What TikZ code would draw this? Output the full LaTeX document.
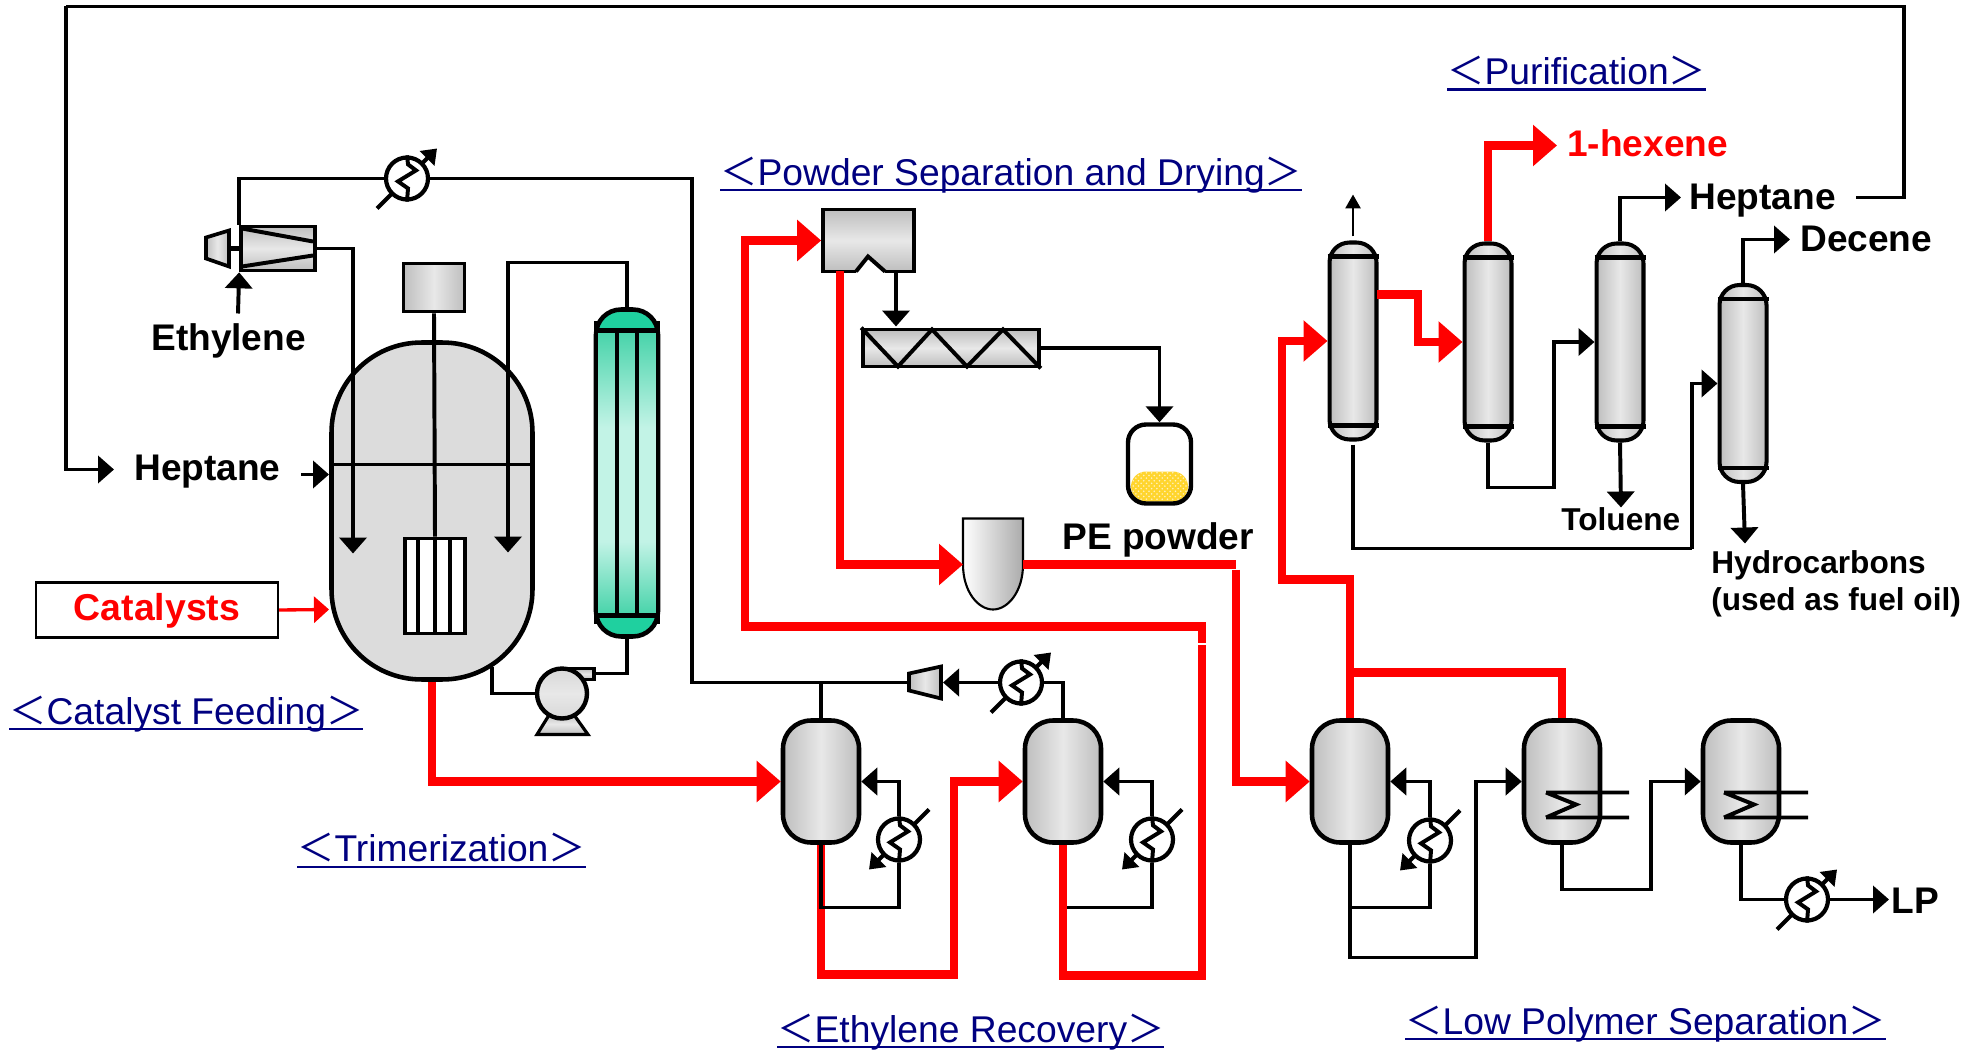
\documentclass[tikz,border=0pt]{standalone}
\usepackage{fontspec}
\setmainfont{Liberation Sans}
\newfontfamily\cjkfont{Noto Sans CJK JP}
\usetikzlibrary{arrows.meta, calc, patterns}
\definecolor{vesselgray}{HTML}{BEBEBE}
\definecolor{vessellight}{HTML}{E8E8E8}
\definecolor{reactorgray}{HTML}{DCDCDC}
\definecolor{capgreen}{HTML}{1FD09F}
\definecolor{tubegreen}{HTML}{46D3A9}
\definecolor{tubelight}{HTML}{C2F3E6}
\definecolor{powderyellow}{HTML}{FFD52E}
\definecolor{seclink}{HTML}{000080}
\pgfdeclareverticalshading{tubeshade}{100bp}{color(0bp)=(tubegreen); color(25bp)=(tubegreen); color(38bp)=(tubelight); color(58bp)=(tubelight); color(75bp)=(tubegreen); color(100bp)=(tubegreen)}
\newsavebox{\secbox}
\newcommand{\seclabel}[1]{\sbox{\secbox}{{\cjkfont ＜}#1{\cjkfont ＞}}\rlap{\usebox{\secbox}}\rule[-3.2pt]{\wd\secbox}{1.15pt}}
\tikzset{
	blackline/.style={draw=black, line width=2.25pt},
	blackflow/.style={blackline, -{Triangle[length=.32cm,width=.54cm]}},
	redline/.style={draw=red, line width=4.6pt},
	redflow/.style={redline, -{Triangle[length=.48cm,width=.8cm]}},
	vessel/.style={draw=black, line width=2.6pt, inner sep=0pt, left color=vesselgray, right color=vesselgray, middle color=vessellight, minimum width=1.52cm, minimum height=2.44cm, rounded corners=.56cm},
	column/.style={vessel, line width=2.3pt, minimum width=.94cm, minimum height=3.94cm, rounded corners=.4cm},
	barshade/.style={draw=black, line width=2.1pt, inner sep=0pt, top color=vesselgray, bottom color=vesselgray, middle color=vessellight},
	sideshade/.style={draw=black, line width=2.1pt, inner sep=0pt, left color=vesselgray, right color=vesselgray, middle color=vessellight},
	hx/.style={circle, draw=black, line width=2.4pt, fill=white, inner sep=0pt, minimum size=.84cm},
	hxline/.style={draw=black, line width=2.3pt, -{Triangle[length=.28cm,width=.4cm]}},
	boldlabel/.style={font=\bfseries\fontsize{21.1}{24}\selectfont, inner sep=0pt, anchor=west},
	smalllabel/.style={font=\bfseries\fontsize{18}{21}\selectfont, inner sep=0pt, anchor=west, align=left},
	seclabelnode/.style={font=\fontsize{21.2}{24}\selectfont, text=seclink, inner sep=0pt, anchor=west}
}
\begin{document}
\begin{tikzpicture}[x=.02cm,y=-.02cm]
	\useasboundingbox (0,-1.5) rectangle (1980,1048.5);
	
	\node[vessel, left color=reactorgray, right color=reactorgray, minimum width=4.02cm, minimum height=6.74cm, rounded corners=1.8cm] (reactor) at (432,509.5) {};
	\node[sideshade] (motor) at (434,286) [minimum width=1.22cm, minimum height=.96cm] {};
	\node[draw=black, line width=2.2pt, fill=white, inner sep=0pt, minimum width=1.2cm, minimum height=1.9cm] (impeller) at (435,584.5) {};
	\node[draw=black, line width=2.6pt, fill=capgreen, inner sep=0pt, minimum width=1.24cm, minimum height=6.54cm, rounded corners=.5cm] (cooler) at (627,471.5) {};
	\shade[shading=tubeshade] (598,329) rectangle (656,614);
	\draw[blackline, line width=2.6pt] (596,320) -- (596,622) (658,320) -- (658,622);
	\draw[blackline, line width=2.8pt] (596,329) -- (658,329) (596,614) -- (658,614);
	\draw[blackline] (617,329) -- (617,614) (637,329) -- (637,614);
	
	\node[barshade, minimum width=1.48cm, minimum height=.88cm] (ejector) at (278,247) {};
	\draw[blackline] (242,227) -- (313,240) (242,265) -- (313,254);
	\draw[sideshade] (229,229) -- (229,265) -- (206,257) -- (206,236) -- cycle;
	\draw[blackline, line width=3pt] (229,247) -- (ejector.west);
	
	\draw[barshade] (563,667) rectangle (594,678);
	\draw[barshade, line width=1.8pt] (550,712) -- (573,712) -- (588,733) -- (537,733) -- cycle;
	\node[sideshade, circle, line width=2.5pt, minimum size=1cm, top color=vesselgray!60, bottom color=vesselgray!60, middle color=vessellight] (pump) at (562,692) {};
	
	\node[vessel] (vesa) at (821,780) {};
	\node[vessel] (vesb) at (1063,780) {};
	\node[vessel] (vesc) at (1350,780) {};
	\node[vessel] (vesd) at (1562,780) {};
	\node[vessel] (vese) at (1741,780) {};
	
	\node[column] (cola) at (1353,339.5) {};
	\node[column] (colb) at (1488,340.5) {};
	\node[column] (colc) at (1620,340.5) {};
	\node[column] (cold) at (1743,382) {};
	\foreach \colname in {cola,colb,colc,cold}{
		\draw[blackline, line width=2.8pt] ($(\colname.north west)+(0,16)$) -- ($(\colname.north east)+(0,16)$);
		\draw[blackline, line width=2.8pt] ($(\colname.south west)+(0,-16)$) -- ($(\colname.south east)+(0,-16)$);
	}
	
	\node[barshade, minimum width=1.82cm, minimum height=1.24cm] (sep) at (868.5,239) {};
	\fill[white] (856,271.5) -- (868,255) -- (885,271.5) -- cycle;
	\draw[blackline] (856,270) -- (868,255) -- (885,270);
	
	\node[barshade, minimum width=3.52cm, minimum height=.74cm] (screw) at (951,346.5) {};
	\draw[blackline] (screw.north west) -- (898,365) -- (932,328) -- (967,365) -- (1003,328) -- (screw.south east);
	
	\fill[powderyellow, rounded corners=.3cm] (1131,470) rectangle (1188,500);
	\fill[pattern=crosshatch dots, pattern color=white!70!powderyellow, rounded corners=.3cm] (1131,470) rectangle (1188,500);
	\node[draw=black, line width=2.5pt, inner sep=0pt, minimum width=1.26cm, minimum height=1.58cm, rounded corners=.36cm] (silo) at (1159.5,462.5) {};
	
	\coordinate (bulletw) at (963,563);
	\coordinate (bullete) at (1023,563);
	\draw[draw=black, line width=1.2pt, left color=white, right color=vesselgray!90!black] (963,517) -- (1023,517) -- (bullete) .. controls (1023,590) and (1008,608) .. (993,608) .. controls (978,608) and (963,590) .. (bulletw) -- cycle;
	
	\foreach \hxname/\hxx/\hxy/\hxs in {hxa/407/177/1, hxb/1021/681/1, hxc/899/838/-1, hxd/1152/838/-1, hxe/1430/839/-1, hxf/1807/898/1}{
		\draw[hxline] (\hxx,\hxy) ++(-30*\hxs,30*\hxs) -- ++(60*\hxs,-60*\hxs);
		\node[hx] (\hxname) at (\hxx,\hxy) {};
		\draw[blackline] (\hxname.north) -- ++(1,9) -- ++(8,6) -- ++(-18,11) -- ++(10,7) -- (\hxname.south);
	}
	
	\draw[sideshade] (909,672) -- (941,665) -- (941,697) -- (909,689) -- cycle;
	\coordinate (cpbin) at (909,681);
	\coordinate (cpbout) at (943,681);
	
	\coordinate (recyclea) at (1904,5);
	\coordinate (recycleb) at (66,5);
	\coordinate (heptstart) at (1856,196);
	\coordinate (heptend) at (114,468);
	\coordinate (tipa) at (353,552);
	\coordinate (tipb) at (508,551);
	\coordinate (coolertop) at (508,261);
	\coordinate (ethstart) at (238,312);
	\coordinate (feedstart) at (301,473);
	\coordinate (feedend) at (329,473);
	\coordinate (catend) at (329,608);
	\coordinate (levell) at (331,463);
	\coordinate (levelr) at (533,463);
	\coordinate (pumpin) at (492,665);
	\coordinate (pumpout) at (594,672);
	\coordinate (recyclec) at (692,681);
	
	\draw[blackline] (heptstart) -| (recyclea) -- (recycleb);
	\draw[blackflow] (recycleb) |- (heptend);
	\draw[blackline] (ejector.north west) |- (hxa.west);
	\draw[blackline] (hxa.east) -| (recyclec) -- (cpbin);
	\draw[blackline] (vesa.north) -- (vesa.north |- cpbin);
	\draw[blackflow] (hxb.west) -- (cpbout);
	\draw[blackline] (hxb.east) -| (vesb.north);
	\draw[blackflow] (ethstart) -- (ejector.south west);
	\draw[blackflow] (ejector.east) -| (tipa);
	\draw[blackflow] (cooler.north) |- (coolertop) -- (tipb);
	\draw[blackline] (motor.south) -- (impeller.north);
	\draw[blackline] (levell) -- (levelr);
	\draw[blackline] (impeller.north) -- (impeller.south);
	\draw[blackline] (418,537) -- (418,632) (450,537) -- (450,632);
	\draw[blackflow] (feedstart) -- (feedend);
	\draw[blackline] (pump.west) -| (pumpin);
	\draw[blackline] (pumpout) -| (cooler.south);
	
	\coordinate (sepred) at (840,270);
	\coordinate (sepblack) at (896,270);
	\coordinate (screwin) at (896,325);
	\coordinate (vesbred) at (1202,974);
	\coordinate (vesared) at (954,973);
	\coordinate (recyclegap) at (1202,643);
	\coordinate (recyclegaptop) at (1202,641);
	\coordinate (recycletop) at (1202,625);
	\coordinate (recycleleft) at (745,625);
	\coordinate (powderdown) at (1236,568);
	\coordinate (powdercorner) at (1236,563);
	\coordinate (redup) at (1282,578);
	\coordinate (redjoin) at (1350,671);
	\coordinate (colaout) at (1377,293);
	\coordinate (colajog) at (1418,340.5);
	\coordinate (hexend) at (1557,144);
	
	\draw[redflow] (reactor.south) |- (vesa.west);
	\draw[redflow] (vesa.south) |- (vesared) |- (vesb.west);
	\draw[redline] (vesb.south) |- (vesbred) -- (recyclegap);
	\draw[redflow] (recyclegaptop) -- (recycletop) -- (recycleleft) |- (sep.west);
	\draw[redflow] (sepred) |- (bulletw);
	\draw[redline] (bullete) -- (powdercorner);
	\draw[redflow] (powderdown) |- (vesc.west);
	\draw[redflow] (vesc.north) |- (redup) |- (cola.west);
	\draw[redline] (redjoin) -| (vesd.north);
	\draw[redflow] (colaout) -| (colajog) -- (colb.west);
	\draw[redflow] (colb.north) |- (hexend);
	
	\coordinate (loopa) at (899,906);
	\draw[blackline] (vesa.south) |- (loopa) -- (hxc.south);
	\draw[blackflow] (hxc.north) |- (vesa.east);
	\coordinate (loopb) at (1067,906);
	\draw[blackline] (loopb) -| (hxd.south);
	\draw[blackflow] (hxd.north) |- (vesb.east);
	
	\draw[blackflow] (sepblack) -- (screwin);
	\draw[blackflow] (screw.east) -| (silo.north);
	
	\coordinate (loopc) at (1430,906);
	\coordinate (vescdown) at (1476,956);
	\coordinate (vesddown) at (1651,888);
	\coordinate (lpend) at (1889,898);
	\draw[blackline] (vesc.south) |- (loopc) -- (hxe.south);
	\draw[blackflow] (hxe.north) |- (vesc.east);
	\draw[blackflow] (vesc.south) |- (vescdown) |- (vesd.west);
	\draw[blackflow] (vesd.south) |- (vesddown) |- (vese.west);
	\draw[blackline] (vese.south) |- (hxf.west);
	\draw[blackflow] (hxf.east) -- (lpend);
	\draw[blackline] (1546,791) -- (1629,791) (1546,816) -- (1629,816) (1546,791) -- (1576,803) -- (1546,816);
	\draw[blackline] (1724,791) -- (1808,791) (1724,816) -- (1808,816) (1724,791) -- (1754,803) -- (1724,816);
	
	\coordinate (colaup) at (1353,193);
	\coordinate (colalow) at (1353,547);
	\coordinate (coldin) at (1692,383);
	\coordinate (colbturn) at (1554,486);
	\coordinate (colcend) at (1681,196);
	\coordinate (coldend) at (1790,238);
	\coordinate (coldbottom) at (1745,542);
	\coordinate (colcbottom) at (1621,506);
	\draw[blackline, line width=1.6pt, -{Triangle[length=.28cm,width=.3cm]}, shorten <=.08cm] (cola.north) -- (colaup);
	\draw[blackline, shorten <=.06cm] (cola.south) -- (colalow) -- (coldin |- colalow);
	\draw[blackflow] (coldin |- colalow) |- (cold.west);
	\draw[blackflow] (colb.south) |- (colbturn) |- (colc.west);
	\draw[blackflow] (colc.north) |- (colcend);
	\draw[blackflow] (colc.south) -- (colcbottom);
	\draw[blackflow] (cold.north) |- (coldend);
	\draw[blackflow] (cold.south) -- (coldbottom);
	
	\node[draw=black, line width=1.2pt, minimum width=4.84cm, minimum height=1.1cm, inner sep=0pt, text=red, text height=15pt, text depth=2.6pt, font=\bfseries\fontsize{21.3}{24}\selectfont] (catalysts) at (157,608.5) {Catalysts};
	\draw[draw=red, line width=1.9pt, -{Triangle[length=.3cm,width=.52cm]}] (catalysts.east) -- (catend);
	
	\node[boldlabel] (ethylene) at (151,339) {Ethylene};
	\node[boldlabel] (heptanein) at (134,470) {Heptane};
	\node[boldlabel] (pepowder) at (1062,538) {PE powder};
	\node[boldlabel, text=red] (hexene) at (1567,141.5) {1-hexene};
	\node[boldlabel] (heptaneout) at (1689,199) {Heptane};
	\node[boldlabel] (decene) at (1800,237) {Decene};
	\node[boldlabel] (lp) at (1891,899.5) {LP};
	\node[smalllabel] (toluene) at (1561,518) {Toluene};
	\node[smalllabel] (hydrocarbons) at (1711,582) {Hydrocarbons\\(used as fuel oil)};
	
	\node[seclabelnode] (catfeed) at (9,713) {\seclabel{Catalyst Feeding}};
	\node[seclabelnode] (trimer) at (297,849) {\seclabel{Trimerization}};
	\node[seclabelnode] (recovery) at (777,1031) {\seclabel{Ethylene Recovery}};
	\node[seclabelnode] (powdersep) at (720,174) {\seclabel{Powder Separation and Drying}};
	\node[seclabelnode] (purify) at (1447,72) {\seclabel{Purification}};
	\node[seclabelnode] (lowpoly) at (1405,1023) {\seclabel{Low Polymer Separation}};
\end{tikzpicture}
\end{document}
